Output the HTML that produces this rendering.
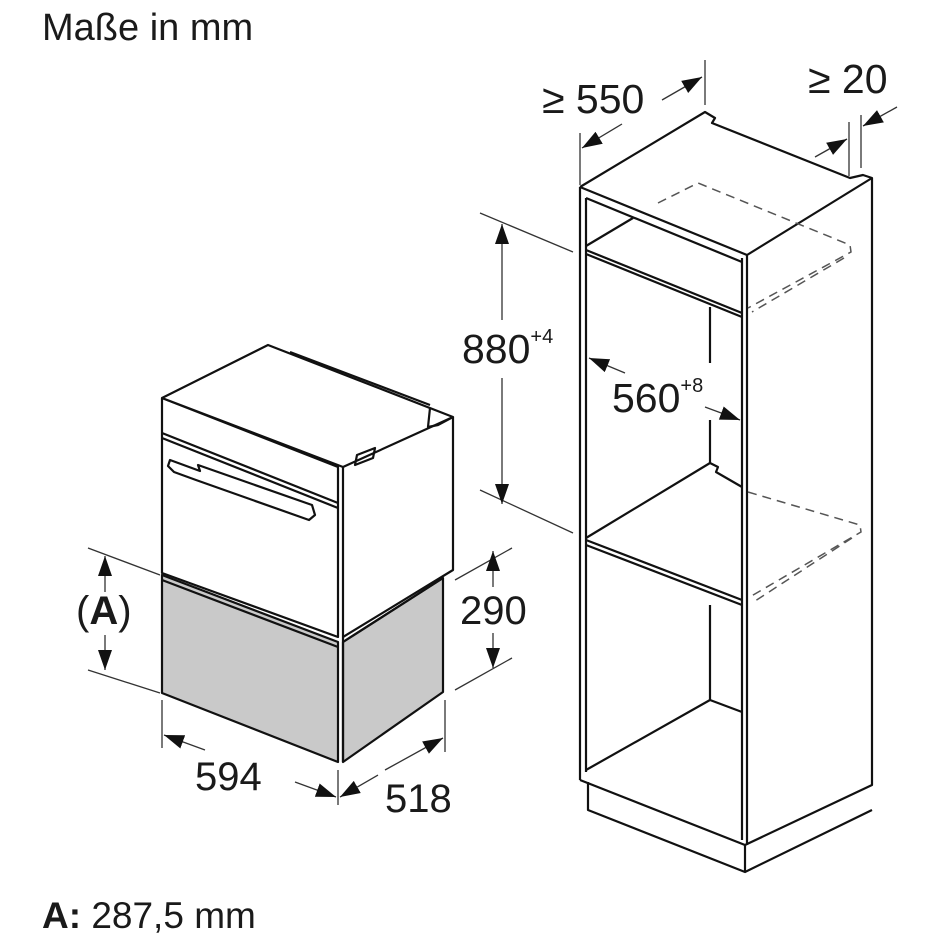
<!DOCTYPE html>
<html><head><meta charset="utf-8"><style>
html,body{margin:0;padding:0;background:#fff;}
svg{display:block;}
text{font-family:"Liberation Sans",Arial,sans-serif;fill:#1a1a1a;}
</style></head><body>
<svg width="939" height="939" viewBox="0 0 939 939" xmlns="http://www.w3.org/2000/svg">
<defs>
<marker id="ab" viewBox="0 0 10 10" refX="10" refY="5" markerWidth="20" markerHeight="20" markerUnits="userSpaceOnUse" orient="auto"><path d="M0,1.5 L10,5 L0,8.5 z" fill="#111"/></marker>
</defs>
<text x="42" y="40" font-size="38">Maße in mm</text>
<text x="42" y="928" font-size="37"><tspan font-weight="bold">A:</tspan> 287,5 mm</text>

<!-- OVEN -->
<g stroke="#111" stroke-width="2.2" fill="none" stroke-linejoin="round">
<polygon points="162,575 338,642 338,762 162,693" fill="#c9c9c9"/>
<polygon points="343,642 443,578 443,692 343,762" fill="#c9c9c9"/>
<line x1="162" y1="580" x2="338" y2="647"/>
<polygon points="162,398 338,467 338,637 162,573" fill="#fff"/>
<line x1="162" y1="433" x2="338" y2="503"/>
<line x1="162" y1="438" x2="338" y2="508"/>
<line x1="343" y1="467" x2="343" y2="762"/>
<polyline points="162,398 268,345 453,417 343,467 162,398" fill="#fff"/>
<polyline points="290,352 430,405"/>
<polyline points="453,417 453,570 343,637"/>
<polyline points="430,408 428,427 438,425 453,417"/>
<path d="M355,465 l2,-10 l18,-7 l-2,10 z"/>
<path d="M170,460 L200,471 L198,465 L312,505 L315,515 L309,520 L196,480 L174,472 L168,466 z" fill="#fff"/>
<line x1="343" y1="642" x2="443" y2="578"/>
</g>
<g stroke="#333" stroke-width="1.3" fill="none">
<line x1="88" y1="548" x2="160" y2="575"/>
<line x1="88" y1="670" x2="160" y2="693"/>
<line x1="105" y1="592" x2="105" y2="556" marker-end="url(#ab)"/>
<line x1="105" y1="635" x2="105" y2="670" marker-end="url(#ab)"/>
<line x1="455" y1="580" x2="512" y2="548"/>
<line x1="455" y1="690" x2="512" y2="658"/>
<line x1="493" y1="587" x2="493" y2="551" marker-end="url(#ab)"/>
<line x1="493" y1="633" x2="493" y2="668" marker-end="url(#ab)"/>
<line x1="162" y1="700" x2="162" y2="748"/>
<line x1="338" y1="770" x2="338" y2="805"/>
<line x1="445" y1="700" x2="445" y2="752"/>
<line x1="205" y1="750" x2="164" y2="735" marker-end="url(#ab)"/>
<line x1="295" y1="782" x2="336" y2="797" marker-end="url(#ab)"/>
<line x1="385" y1="770" x2="443" y2="738" marker-end="url(#ab)"/>
<line x1="378" y1="775" x2="340" y2="797" marker-end="url(#ab)"/>
</g>
<text x="76" y="624" font-size="40">(<tspan font-weight="bold">A</tspan>)</text>
<text x="460" y="624" font-size="40">290</text>
<text x="195" y="790" font-size="40">594</text>
<text x="385" y="812" font-size="40">518</text>

<!-- CABINET -->
<g stroke="#111" stroke-width="2.2" fill="none" stroke-linejoin="round">
<polyline points="580,187 705,112 715,118 712,123 850,178 863,175 872,178 872,785 745,845"/>
<line x1="580" y1="187" x2="580" y2="780"/>
<line x1="586" y1="198" x2="586" y2="772"/>
<line x1="742" y1="258" x2="742" y2="840"/>
<line x1="747" y1="255" x2="747" y2="845"/>
<line x1="580" y1="187" x2="747" y2="255"/>
<line x1="586" y1="198" x2="742" y2="262"/>
<line x1="747" y1="255" x2="872" y2="178"/>
<line x1="586" y1="250" x2="742" y2="313"/>
<line x1="586" y1="254" x2="742" y2="317"/>
<line x1="586" y1="246" x2="633" y2="218"/>
<line x1="710" y1="307" x2="710" y2="363"/>
<line x1="710" y1="420" x2="710" y2="463"/>
<polyline points="710,463 718,467 716,472 742,487"/>
<line x1="586" y1="538" x2="710" y2="463"/>
<line x1="586" y1="540" x2="742" y2="600"/>
<line x1="586" y1="545" x2="742" y2="605"/>
<line x1="710" y1="605" x2="710" y2="700"/>
<polyline points="586,770 710,700 742,712"/>
<line x1="580" y1="780" x2="745" y2="845"/>
<polyline points="588,782 588,810 745,872 872,810"/>
<line x1="745" y1="845" x2="745" y2="872"/>
</g>
<g stroke="#555" stroke-width="1.5" fill="none" stroke-dasharray="9,6">
<polyline points="658,203 698,183 850,245 851,252 748,308"/>
<line x1="844" y1="258" x2="752" y2="312"/>
<polyline points="748,492 860,525 861,532 748,598"/>
<line x1="852" y1="538" x2="752" y2="603"/>
</g>
<g stroke="#333" stroke-width="1.3" fill="none">
<line x1="580" y1="133" x2="580" y2="185"/>
<line x1="705" y1="60" x2="705" y2="105"/>
<line x1="622" y1="124" x2="582" y2="148" marker-end="url(#ab)"/>
<line x1="662" y1="100" x2="702" y2="77" marker-end="url(#ab)"/>
<line x1="849" y1="122" x2="849" y2="176"/>
<line x1="861" y1="115" x2="861" y2="168"/>
<line x1="815" y1="157" x2="847" y2="139" marker-end="url(#ab)"/>
<line x1="897" y1="107" x2="863" y2="126" marker-end="url(#ab)"/>
<line x1="480" y1="213" x2="573" y2="252"/>
<line x1="480" y1="490" x2="573" y2="533"/>
<line x1="502" y1="320" x2="502" y2="224" marker-end="url(#ab)"/>
<line x1="502" y1="378" x2="502" y2="504" marker-end="url(#ab)"/>
<line x1="625" y1="373" x2="589" y2="358" marker-end="url(#ab)"/>
<line x1="705" y1="407" x2="740" y2="420" marker-end="url(#ab)"/>
</g>
<text x="542" y="113" font-size="41">≥ 550</text>
<text x="808" y="93" font-size="41">≥ 20</text>
<text x="462" y="363" font-size="41">880<tspan font-size="20" dy="-20">+4</tspan></text>
<text x="612" y="412" font-size="41">560<tspan font-size="20" dy="-20">+8</tspan></text>
</svg>
</body></html>
